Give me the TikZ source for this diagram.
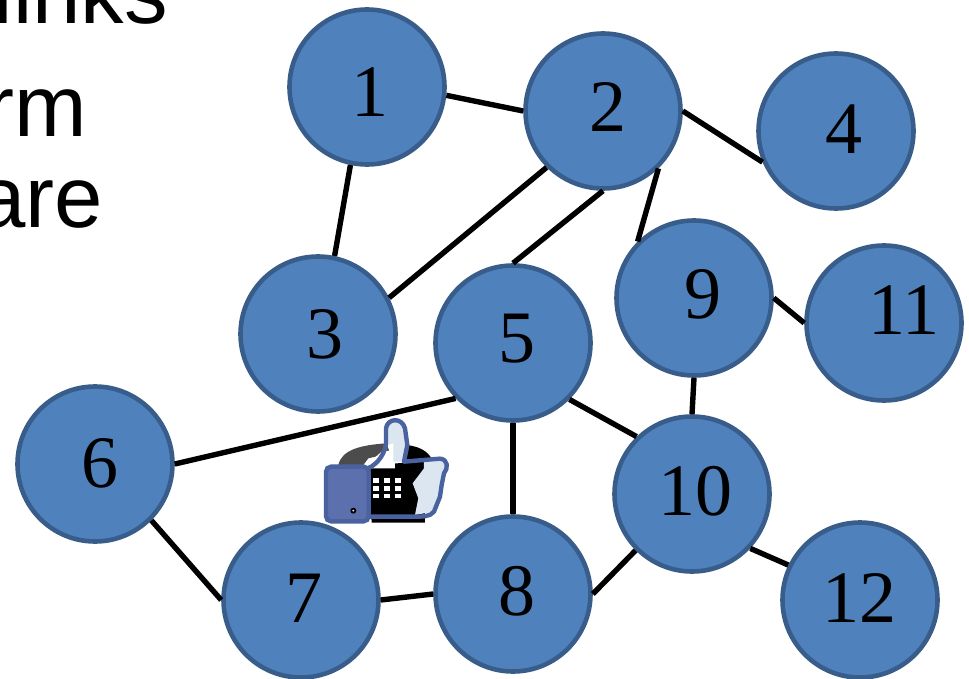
\documentclass[tikz,border=0pt]{standalone}
\usepackage{fontspec}
\setmainfont{Liberation Serif}
\newfontfamily\arialfont{Liberation Sans}
\definecolor{discfill}{HTML}{4F81BD}
\definecolor{discline}{HTML}{385D8A}
\definecolor{thumbline}{HTML}{4A63A0}
\definecolor{thumbfill}{HTML}{5D70AE}
\definecolor{thumbface}{HTML}{DCE6F1}
\tikzset{
  disc/.style={circle,draw=discline,fill=discfill,line width=4.6pt,minimum size=155pt,inner sep=0pt},
  num/.style={font=\fontsize{74}{74}\selectfont,text=black,inner sep=0pt},
  body/.style={font=\arialfont\fontsize{87}{87}\selectfont,text=black,inner sep=0pt,anchor=base east},
  link/.style={line width=5.4pt,draw=black},
}
\begin{document}
\begin{tikzpicture}[x=1pt,y=-1pt]
\useasboundingbox (0,0) rectangle (969,679);
\begin{scope}
\clip (0,0) rectangle (969,679);
\node[body] (t1) at (168,24) {links};
\node[body] (t2) at (87,137) {rm};
\node[body] (t3) at (103,228) {are};
\end{scope}
% discs
\node[disc] (n1) at (367,87) {};
\node[disc] (n2) at (603,111) {};
\node[disc] (n4) at (836,131) {};
\node[disc] (n3) at (318,334) {};
\node[disc] (n5) at (513,343) {};
\node[disc] (n9) at (694,298) {};
\node[disc] (n11) at (884,323) {};
\node[disc] (n6) at (95,464) {};
\node[disc] (n10) at (692,494) {};
\node[disc] (n7) at (301,600) {};
\node[disc] (n8) at (513,594) {};
\node[disc] (n12) at (860,600) {};
% labels
\node[num] (l1) at (370,92) {1};
\node[num] (l2) at (608,107) {2};
\node[num] (l4) at (844,129) {4};
\node[num] (l3) at (325,334) {3};
\node[num] (l5) at (517,339) {5};
\node[num] (l9) at (703,294) {9};
\node[num] (l11) at (904,310) {11};
\node[num] (l6) at (100,463) {6};
\node[num] (l10) at (695,491) {10};
\node[num] (l7) at (304,598) {7};
\node[num] (l8) at (517,591) {8};
\node[num] (l12) at (859,598) {12};
% links
\draw[link] (n1.-6.5) -- (n2.180);
\draw[link] (n1.-102) -- (n3.78);
\draw[link] (n2.225) -- (n3.27);
\draw[link] (n2.270) -- (n5.90);
\draw[link] (n2.-46) -- (n9.135);
\draw[link] (n2.0) -- (n4.203);
\draw[link] (n9.0) -- (n11.180);
\draw[link] (n9.270) -- (n10.90);
\draw[link] (n5.224) -- (n6.0);
\draw[link] (n5.270) -- (n8.90);
\draw[link] (n5.-45) -- (n10.134);
\draw[link] (n6.-45) -- (n7.180);
\draw[link] (n7.0) -- (n8.180);
\draw[link] (n8.0) -- (n10.225);
\draw[link] (n10.-43) -- (n12.154);
% thumbs-up phone icon
\begin{scope}[shift={(300,400)},x=0.3333pt,y=-0.3333pt]
  \fill[black!70] (115,195) .. controls (125,150) and (180,135) .. (260,130) -- (270,160) -- (205,175) -- (190,195) -- cycle;
  \fill[black] (320,135) .. controls (365,140) and (395,160) .. (402,195) -- (320,195) -- cycle;
  \fill[black] (205,195) -- (375,185) -- (375,368) -- (215,368) -- cycle;
  \fill[white] (205,190) -- (245,155) -- (285,150) -- (285,205) -- (205,205) -- cycle;
  \fill[thumbface] (262,135) -- (262,80) .. controls (270,55) and (305,60) .. (312,85)
     -- (318,130) -- (305,185) -- (280,185) -- (280,130) -- cycle;
  \fill[thumbface] (372,180) -- (420,178) .. controls (440,180) and (440,200) .. (432,215)
     -- (420,255) -- (418,290) -- (400,335) -- (345,345) -- (355,295) -- (338,250) -- (372,205) -- cycle;
  \draw[thumbline,line width=4.4pt,line join=round]
     (200,345) -- (205,205) .. controls (235,190) and (255,160) .. (258,130) -- (258,85)
     .. controls (262,55) and (305,50) .. (315,85) -- (322,135) -- (312,185) -- (420,176)
     .. controls (445,178) and (445,205) .. (432,220) -- (425,255) -- (420,290) -- (402,335)
     .. controls (390,350) and (370,350) .. (340,350) -- (205,350);
  \foreach \bx in {218,251,284}
    \foreach \by in {235,259,282}
      \fill[white] (\bx,\by) rectangle +(19,13);
  \fill[thumbfill,draw=thumbline,line width=4.4pt,rounded corners=5pt] (78,200) rectangle (206,364);
  \fill[black] (160,332) circle (9);
  \fill[white] (160,332) circle (3);
\end{scope}
\end{tikzpicture}
\end{document}
